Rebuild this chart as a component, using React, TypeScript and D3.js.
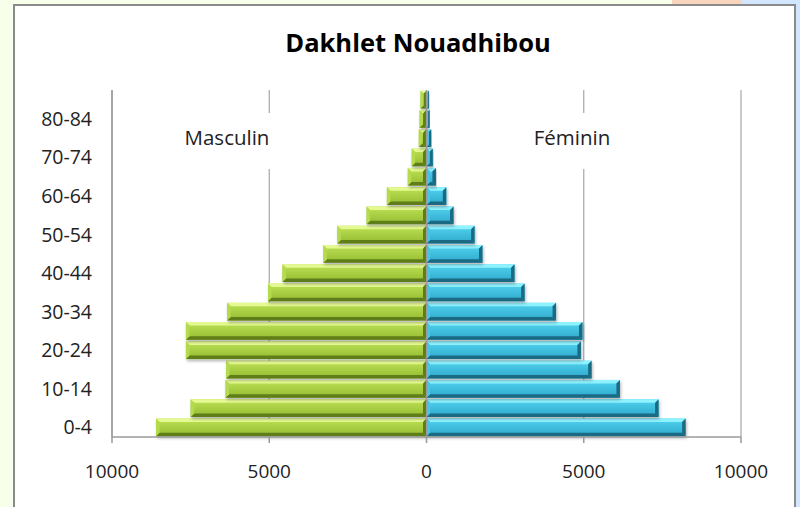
import React, { useEffect, useRef } from 'react';
import * as d3 from 'd3';

const ages = ['0-4', '5-9', '10-14', '15-19', '20-24', '25-29', '30-34', '35-39', '40-44',
  '45-49', '50-54', '55-59', '60-64', '65-69', '70-74', '75-79', '80-84', '85+'];
const masculin = [8600, 7500, 6390, 6370, 7650, 7650, 6340, 5040, 4580, 3280, 2835, 1905, 1260, 595, 470, 245, 220, 190];
const feminin = [8240, 7380, 6150, 5250, 4910, 4960, 4120, 3120, 2800, 1780, 1530, 860, 630, 300, 200, 150, 100, 75];
const xTicks = [-10000, -5000, 0, 5000, 10000];

const FONT = '"Open Sans", "Noto Sans", sans-serif';

const palette = {
  m: { top: '#e4f992', body0: '#bfe257', body1: '#93bb30', bottom: '#5f7d18', end: '#b4da4e' },
  f: { top: '#8ff2ff', body0: '#52d4f0', body1: '#2ea7ca', bottom: '#1a6a84', end: '#46c4e4' },
};

const App: React.FC = () => {
  const svgRef = useRef<SVGSVGElement>(null);

  useEffect(() => {
    if (!svgRef.current) return;
    const svg = d3.select(svgRef.current);
    svg.selectAll('*').remove();

    const W = 800, H = 507;
    const left = 112, right = 741, top = 90, bottom = 437;

    // page background bits around the chart frame
    svg.append('rect').attr('width', W).attr('height', H).attr('fill', '#f7ffea');
    svg.append('rect').attr('x', 672).attr('y', 0).attr('width', 70).attr('height', 6).attr('fill', '#f8d5bd');
    svg.append('rect').attr('x', 742).attr('y', 0).attr('width', 58).attr('height', H).attr('fill', '#d2e6ff');
    svg.append('rect').attr('x', 14).attr('y', 5).attr('width', 781).attr('height', H).attr('fill', '#ffffff')
      .attr('stroke', '#8a8a8a').attr('stroke-width', 2);

    const defs = svg.append('defs');
    (['m', 'f'] as const).forEach(k => {
      const g = defs.append('linearGradient').attr('id', `grad-${k}`)
        .attr('x1', 0).attr('y1', 0).attr('x2', 0).attr('y2', 1);
      g.append('stop').attr('offset', '0%').attr('stop-color', palette[k].body0);
      g.append('stop').attr('offset', '100%').attr('stop-color', palette[k].body1);
    });
    const sh = defs.append('filter').attr('id', 'shadow').attr('x', '-10%').attr('y', '-30%')
      .attr('width', '120%').attr('height', '180%');
    sh.append('feDropShadow').attr('dx', 1).attr('dy', 2).attr('stdDeviation', 1.5)
      .attr('flood-color', '#000').attr('flood-opacity', 0.3);

    const x = d3.scaleLinear().domain([-10000, 10000]).range([left, right]);
    const y = d3.scaleBand<string>().domain(ages).range([bottom, top]).paddingInner(0.08).paddingOuter(0.04);

    // title
    svg.append('text').attr('x', 418).attr('y', 52).attr('text-anchor', 'middle')
      .style('font-family', FONT).style('font-weight', 700).style('font-size', '25.5px')
      .attr('fill', '#000').text('Dakhlet Nouadhibou');

    // gridlines
    svg.append('g').selectAll('line').data(xTicks).enter().append('line')
      .attr('x1', d => x(d)).attr('x2', d => x(d)).attr('y1', top).attr('y2', bottom)
      .attr('stroke', '#a6a6a6').attr('stroke-width', 1.2);

    // series labels sit in white boxes that break the gridlines
    const lg = svg.append('g');
    lg.append('rect').attr('x', 176).attr('y', 113).attr('width', 102).attr('height', 56).attr('fill', '#fff');
    lg.append('rect').attr('x', 526).attr('y', 113).attr('width', 94).attr('height', 56).attr('fill', '#fff');
    lg.append('text').attr('x', 227).attr('y', 145).attr('text-anchor', 'middle')
      .style('font-family', FONT).style('font-size', '20.5px').attr('fill', '#222').text('Masculin');
    lg.append('text').attr('x', 572).attr('y', 145).attr('text-anchor', 'middle')
      .style('font-family', FONT).style('font-size', '20.5px').attr('fill', '#222').text('Féminin');

    // bevelled bars
    const drawBar = (g: any, x0: number, x1: number, y0: number, h: number, k: 'm' | 'f') => {
      const p = palette[k];
      const w = x1 - x0;
      const b = Math.min(3.5, w / 2, h / 2);
      const y1 = y0 + h;
      g.append('rect').attr('x', x0).attr('y', y0).attr('width', w).attr('height', h)
        .attr('fill', `url(#grad-${k})`).attr('filter', 'url(#shadow)');
      const poly = (pts: number[][], fill: string) =>
        g.append('polygon').attr('points', pts.map(q => q.join(',')).join(' ')).attr('fill', fill);
      poly([[x0, y0], [x1, y0], [x1 - b, y0 + b], [x0 + b, y0 + b]], p.top);
      poly([[x0, y1], [x1, y1], [x1 - b, y1 - b], [x0 + b, y1 - b]], p.bottom);
      poly([[x1, y0], [x1 - b, y0 + b], [x1 - b, y1 - b], [x1, y1]], p.bottom);
      poly([[x0, y0], [x0 + b, y0 + b], [x0 + b, y1 - b], [x0, y1]], p.end);
    };

    const bars = svg.append('g');
    ages.forEach((a, i) => {
      const yy = y(a)!;
      drawBar(bars, x(-masculin[i]), x(0), yy, y.bandwidth(), 'm');
      drawBar(bars, x(0), x(feminin[i]), yy, y.bandwidth(), 'f');
    });

    // zero line on top
    svg.append('line').attr('x1', x(0)).attr('x2', x(0)).attr('y1', top).attr('y2', bottom)
      .attr('stroke', '#9a9a9a').attr('stroke-width', 1.2);

    // axes
    svg.append('line').attr('x1', left).attr('x2', left).attr('y1', top).attr('y2', bottom)
      .attr('stroke', '#9a9a9a').attr('stroke-width', 1.5);
    svg.append('line').attr('x1', left).attr('x2', right).attr('y1', bottom).attr('y2', bottom)
      .attr('stroke', '#9a9a9a').attr('stroke-width', 1.5);
    svg.append('g').selectAll('line').data(xTicks).enter().append('line')
      .attr('x1', d => x(d)).attr('x2', d => x(d)).attr('y1', bottom).attr('y2', bottom + 6)
      .attr('stroke', '#9a9a9a').attr('stroke-width', 1.5);

    svg.append('g').selectAll('text').data(xTicks).enter().append('text')
      .attr('x', d => x(d)).attr('y', 478).attr('text-anchor', 'middle')
      .style('font-family', FONT).style('font-size', '19px').attr('fill', '#222')
      .text(d => String(Math.abs(d)));

    svg.append('g').selectAll('text').data(ages.filter((_, i) => i % 2 === 0)).enter().append('text')
      .attr('x', 92).attr('y', d => y(d)! + y.bandwidth() / 2 + 7).attr('text-anchor', 'end')
      .style('font-family', FONT).style('font-size', '19.5px').attr('fill', '#222')
      .text(d => d);
  }, []);

  return (
    <svg ref={svgRef} width={800} height={507}
      style={{ position: 'absolute', left: 0, top: 0, display: 'block' }} />
  );
};

export default App;
